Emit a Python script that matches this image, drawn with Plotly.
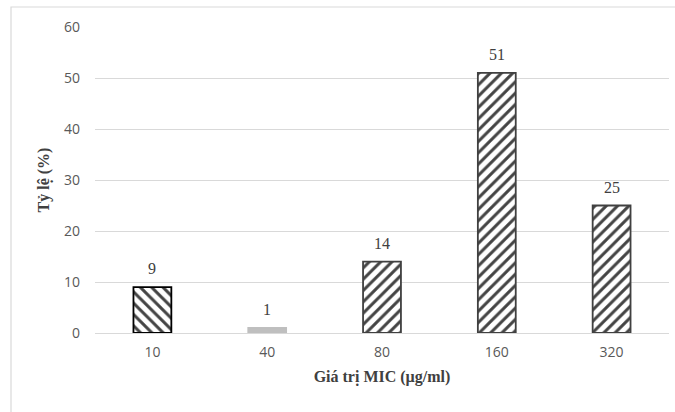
import plotly.graph_objects as go

categories = ["10", "40", "80", "160", "320"]
values = [9, 1, 14, 51, 25]
patterns = ["\\", "", "/", "/", "/"]
fill_colors = ["#ffffff", "#bfbfbf", "#ffffff", "#ffffff", "#ffffff"]
line_colors = ["#000000", "#bfbfbf", "#404040", "#404040", "#404040"]
fg_colors = ["#000000", "#bfbfbf", "#262626", "#262626", "#262626"]
y_ticks = [0, 10, 20, 30, 40, 50, 60]

W, H = 675, 412
L, R, T, B = 95, 6, 27, 79
pw = W - L - R
ph = H - T - B

fig = go.Figure()
fig.add_trace(go.Bar(
    x=categories, y=values,
    marker=dict(
        color=fill_colors,
        line=dict(color=line_colors, width=1.8),
        pattern=dict(shape=patterns, fgcolor=fg_colors,
                     fgopacity=1, size=8, solidity=0.38, fillmode="overlay"),
    ),
    width=0.33,
))

for i, v in enumerate(values):
    fig.add_annotation(x=i, y=v, xref="x", yref="y", text=str(v), showarrow=False,
                       yanchor="bottom", yshift=8,
                       font=dict(family="Liberation Serif", size=16, color="#404040"))

def px(p):
    return (p - L) / pw

def py(p):
    return (H - B - p) / ph

fig.add_shape(type="rect", xref="paper", yref="paper",
              x0=px(11), x1=px(680), y0=py(417), y1=py(7),
              line=dict(color="#d9d9d9", width=1.2), layer="below")

fig.update_layout(
    width=W, height=H,
    margin=dict(l=L, r=R, t=T, b=B),
    paper_bgcolor="white", plot_bgcolor="white",
    showlegend=False,
    xaxis=dict(
        type="category", categoryorder="array", categoryarray=categories,
        range=[-0.5, len(categories) - 0.5],
        tickfont=dict(family="Open Sans", size=14, color="#595959"),
        showgrid=False, showline=False, ticks="", ticklabelstandoff=9,
        title=dict(text="<b>Giá trị MIC (µg/ml)</b>",
                   font=dict(family="Liberation Serif", size=16, color="#404040"),
                   standoff=10),
    ),
    yaxis=dict(
        range=[0, 60], tickvals=y_ticks,
        tickfont=dict(family="Open Sans", size=14, color="#595959"),
        showgrid=True, gridcolor="#d9d9d9", gridwidth=1,
        zeroline=True, zerolinecolor="#d9d9d9", zerolinewidth=1,
        showline=False, ticks="", ticklabelstandoff=14,
        title=dict(text="<b>Tỷ lệ (%)</b>",
                   font=dict(family="Liberation Serif", size=16, color="#404040"),
                   standoff=10),
    ),
)

fig.write_html("out.html")
